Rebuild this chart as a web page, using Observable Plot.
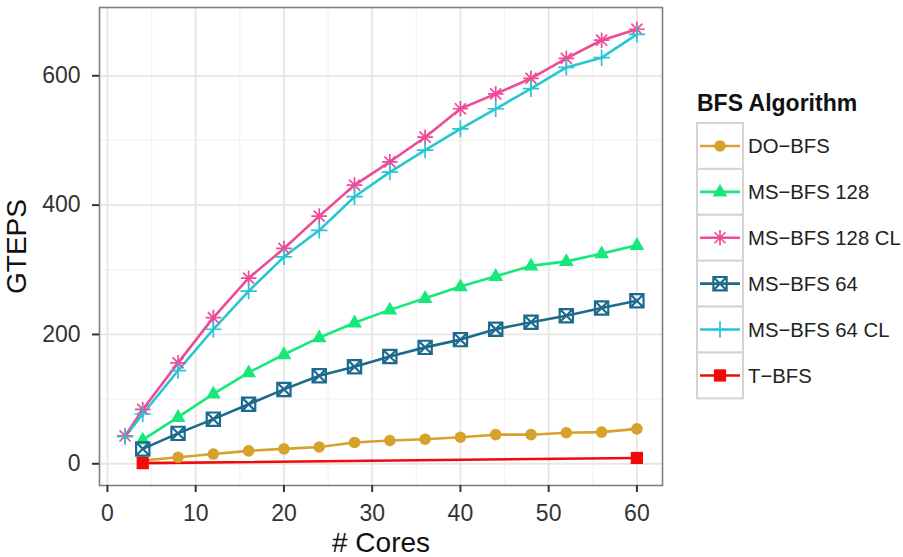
<!DOCTYPE html>
<html><head><meta charset="utf-8">
<script src="https://cdn.jsdelivr.net/npm/d3@7"></script>
<script src="https://cdn.jsdelivr.net/npm/@observablehq/plot@0.6"></script>
<style>
body{margin:0;background:#fff;}
#chart svg{font-family:"Liberation Sans",Arial,Helvetica,sans-serif;overflow:visible;}
</style>
</head><body><div id="chart"></div>
<script>
// ---- data ----
const series = ["DO\u2212BFS", "MS\u2212BFS 128", "MS\u2212BFS 128 CL", "MS\u2212BFS 64", "MS\u2212BFS 64 CL", "T\u2212BFS"];
const colors = ["#D6A22B", "#17E87A", "#EE4A98", "#1C6A8E", "#28C6D2", "#F00A0A"];
const cores = [4, 8, 12, 16, 20, 24, 28, 32, 36, 40, 44, 48, 52, 56, 60];
const coresCL = [2, 4, 8, 12, 16, 20, 24, 28, 32, 36, 40, 44, 48, 52, 56, 60];
const coresT = [4, 60];
const doBfs   = [5, 10, 15, 20, 23, 26, 33, 36, 38, 41, 45, 45, 48, 49, 54];
const ms128   = [37, 72, 108, 141, 169, 195, 218, 238, 256, 274, 290, 306, 313, 325, 338];
const ms128cl = [43, 84, 156, 226, 287, 333, 383, 431, 467, 505, 549, 572, 596, 627, 655, 672];
const ms64    = [23, 47, 69, 92, 115, 136, 150, 166, 180, 192, 208, 219, 229, 241, 252];
const ms64cl  = [42, 77, 144, 208, 267, 320, 361, 413, 451, 485, 518, 549, 580, 613, 628, 664];
const tBfs    = [1, 9];
const xTicks = [0, 10, 20, 30, 40, 50, 60];
const xMinor = [5, 15, 25, 35, 45, 55];
const yTicks = [0, 200, 400, 600];
const yMinor = [100, 300, 500];
const xTitle = "# Cores";
const yTitle = "GTEPS";
const legendTitle = "BFS Algorithm";

// ---- custom symbols ----
const rad = s => Math.sqrt(s / Math.PI);
const star8 = {draw(c, s){ const r = rad(s), d = r * 0.7071;
  c.moveTo(-r,0); c.lineTo(r,0); c.moveTo(0,-r); c.lineTo(0,r);
  c.moveTo(-d,-d); c.lineTo(d,d); c.moveTo(-d,d); c.lineTo(d,-d);}};
const plus = {draw(c, s){ const r = rad(s);
  c.moveTo(-r,0); c.lineTo(r,0); c.moveTo(0,-r); c.lineTo(0,r);}};
const squareCross = {draw(c, s){ const r = rad(s) * 0.85;
  c.moveTo(-r,-r); c.lineTo(r,-r); c.lineTo(r,r); c.lineTo(-r,r); c.closePath();
  c.moveTo(-r,-r); c.lineTo(r,r); c.moveTo(-r,r); c.lineTo(r,-r);}};
const tri = {draw(c, s){ const r = rad(s);
  c.moveTo(0,-r*1.05); c.lineTo(r*0.95,r*0.6); c.lineTo(-r*0.95,r*0.6); c.closePath();}};
const sq = {draw(c, s){ const r = rad(s) * 0.9;
  c.moveTo(-r,-r); c.lineTo(r,-r); c.lineTo(r,r); c.lineTo(-r,r); c.closePath();}};

const xs = [cores, cores, coresCL, cores, coresCL, coresT];
const ys = [doBfs, ms128, ms128cl, ms64, ms64cl, tBfs];
const styles = [
  {symbol: "circle", r: 5.8, fill: true},
  {symbol: tri, r: 7.8, fill: true},
  {symbol: star8, r: 7.8, fill: false, sw: 1.7},
  {symbol: squareCross, r: 7.8, fill: false, sw: 2.2},
  {symbol: plus, r: 8.2, fill: false, sw: 1.7},
  {symbol: sq, r: 6.8, fill: true}
];

const rows = [];
series.forEach((s, i) => xs[i].forEach((x, j) => rows.push({series: s, x, y: ys[i][j], idx: i})));

const marks = [
  Plot.gridX(xMinor, {stroke: "#f3f3f3", strokeOpacity: 1, strokeWidth: 1.2}),
  Plot.gridY(yMinor, {stroke: "#f3f3f3", strokeOpacity: 1, strokeWidth: 1.2}),
  Plot.gridX(xTicks, {stroke: "#e6e6e6", strokeOpacity: 1, strokeWidth: 1.8}),
  Plot.gridY(yTicks, {stroke: "#e6e6e6", strokeOpacity: 1, strokeWidth: 1.8}),
  Plot.frame({stroke: "#808080", strokeWidth: 1.6}),
  Plot.axisX({ticks: xTicks, tickSize: 7, tickPadding: 12, fontSize: 23, color: "#333", strokeWidth: 2, label: null}),
  Plot.axisY({ticks: yTicks, tickSize: 7, tickPadding: 12, fontSize: 23, color: "#333", strokeWidth: 2, label: null}),
  Plot.text([xTitle], {frameAnchor: "bottom", lineAnchor: "middle", textAnchor: "middle", dy: 58, fontSize: 28, fill: "#111"}),
  Plot.text([yTitle], {frameAnchor: "left", lineAnchor: "middle", textAnchor: "middle", dx: -82, rotate: -90, fontSize: 28, fill: "#111"})
];
series.forEach((s, i) => {
  const d = rows.filter(r => r.idx === i);
  marks.push(Plot.line(d, {x: "x", y: "y", stroke: colors[i], strokeWidth: 2.6}));
});
series.forEach((s, i) => {
  const d = rows.filter(r => r.idx === i);
  const st = styles[i];
  marks.push(Plot.dot(d, {x: "x", y: "y", symbol: st.symbol, r: st.r,
    fill: st.fill ? colors[i] : "none", stroke: st.fill ? "none" : colors[i],
    strokeWidth: st.sw || 1}));
});

const chart = Plot.plot({
  width: 903, height: 557,
  marginLeft: 99, marginRight: 241, marginTop: 7, marginBottom: 72,
  x: {domain: [-0.9, 62.9]},
  y: {domain: [-33.6, 705.6]},
  style: {fontFamily: "Liberation Sans, Arial, sans-serif", background: "#fff"},
  marks
});
document.getElementById("chart").appendChild(chart);

// ---- legend ----
const svg = d3.select(chart);
const lg = svg.append("g").attr("font-family", "Liberation Sans, Arial, sans-serif").attr("text-anchor", "start");
lg.append("text").attr("x", 697).attr("y", 111).attr("font-size", 23).attr("font-weight", "bold")
  .attr("text-anchor", "start").attr("fill", "#111").text(legendTitle);
const top0 = 123, kh = 45.9;
series.forEach((s, i) => {
  const y0 = top0 + i * kh, cy = y0 + kh / 2;
  lg.append("rect").attr("x", 697).attr("y", y0).attr("width", 46).attr("height", kh)
    .attr("fill", "#fff").attr("stroke", "#d4d4d4").attr("stroke-width", 2);
  lg.append("line").attr("x1", 700).attr("x2", 740).attr("y1", cy).attr("y2", cy)
    .attr("stroke", colors[i]).attr("stroke-width", 2.6);
  const st = styles[i];
  const sym = st.symbol === "circle" ? d3.symbolCircle : st.symbol;
  lg.append("path").attr("transform", `translate(720,${cy})`)
    .attr("d", d3.symbol(sym, Math.PI * st.r * st.r)())
    .attr("fill", st.fill ? colors[i] : "none").attr("stroke", st.fill ? "none" : colors[i])
    .attr("stroke-width", st.sw || 1);
  lg.append("text").attr("x", 748).attr("y", cy + 7.5).attr("font-size", 20.3)
    .attr("text-anchor", "start").attr("fill", "#222").text(s);
});
</script></body></html>
